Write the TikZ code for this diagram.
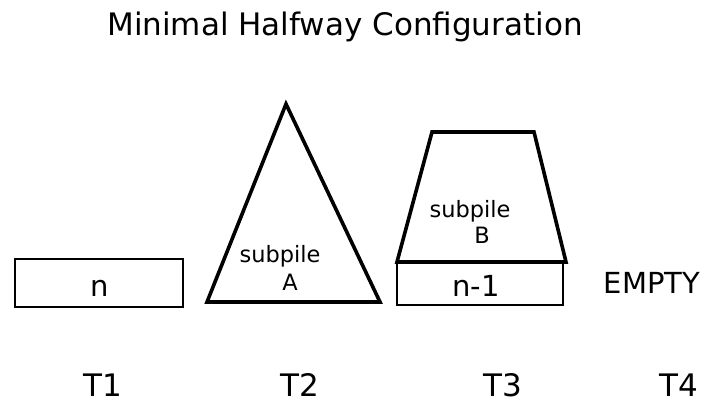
\documentclass[tikz,border=0pt]{standalone}
\usepackage{fontspec}
\setmainfont{DejaVu Sans}
\begin{document}
\begin{tikzpicture}[x=1pt,y=-1pt,
  pile/.style={draw=black,line width=3.6pt,line join=miter},
  box/.style={draw=black,line width=2.6pt,inner sep=0pt},
  big/.style={inner sep=0pt,anchor=base,font=\fontsize{31}{33}\selectfont},
  lbl/.style={inner sep=0pt,anchor=base,font=\fontsize{29}{31}\selectfont},
  sml/.style={inner sep=0pt,anchor=base,font=\fontsize{22.5}{24}\selectfont}]
\useasboundingbox (0,0) rectangle (706,404);
\node[big] (title) at (345,36) {Minimal Halfway Configuration};
% T1
\node[box,minimum width=168pt,minimum height=48pt] (n) at (99,283) {};
\node[lbl] (nlab) at (99.5,296) {n};
% T2 triangle
\coordinate (ta) at (286,104);
\coordinate (tl) at (207,302);
\coordinate (tr) at (380,302);
\draw[pile] (ta) -- (tl) -- (tr) -- cycle;
\node[sml] (sa) at (280,262) {subpile};
\node[sml] (a) at (290,290) {A};
% T3
\node[box,minimum width=166pt,minimum height=43pt] (n1) at (480,283.5) {};
\node[lbl] (n1lab) at (476,296) {n-1};
\coordinate (b1) at (397,262);
\coordinate (b2) at (432,132);
\coordinate (b3) at (534,132);
\coordinate (b4) at (566,262);
\draw[pile] (b1) -- (b2) -- (b3) -- (b4) -- cycle;
\node[sml] (sb) at (470,217) {subpile};
\node[sml] (b) at (482,243) {B};
\node[lbl] (empty) at (652,293) {EMPTY};
% labels
\node[big] (t1) at (102.5,396) {T1};
\node[big] (t2) at (300,396) {T2};
\node[big] (t3) at (502.5,396) {T3};
\node[big] (t4) at (679,396) {T4};
\end{tikzpicture}
\end{document}
